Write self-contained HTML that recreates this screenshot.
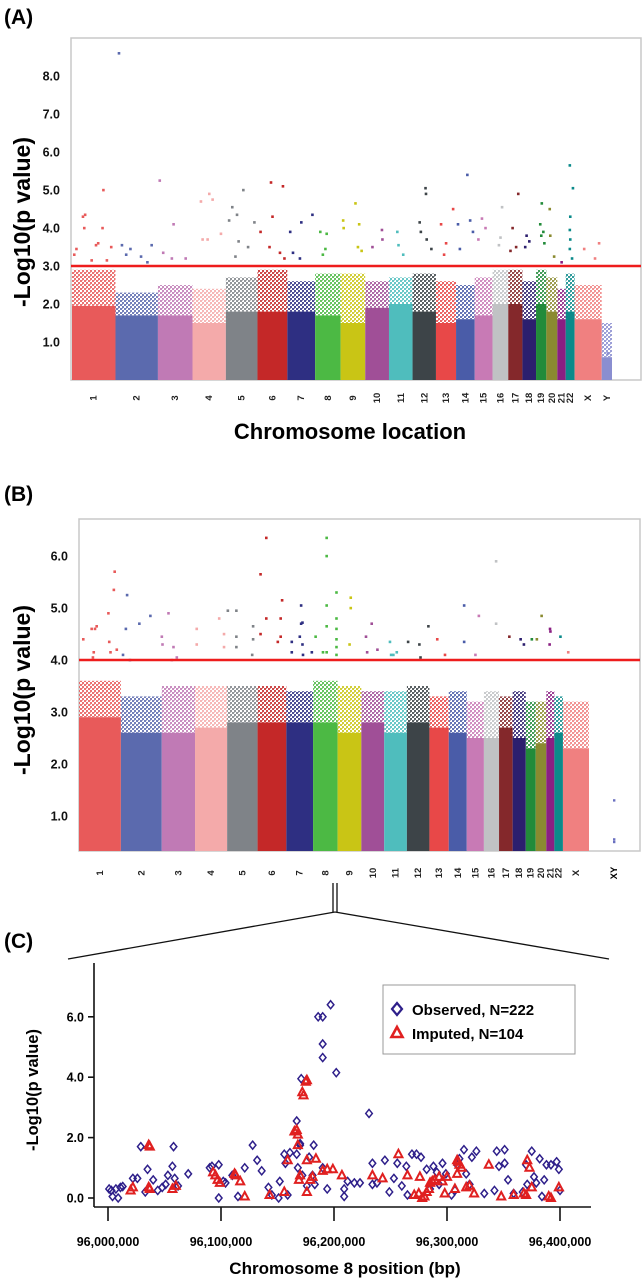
<!DOCTYPE html>
<html><head><meta charset="utf-8">
<style>
html,body{margin:0;padding:0;background:#fff;}
svg{display:block;font-family:"Liberation Sans",Arial,sans-serif;}
</style></head>
<body>
<svg id="fig" width="643" height="1280" viewBox="0 0 643 1280" xmlns="http://www.w3.org/2000/svg">
<defs id="defs"></defs>
<g id="panelA"></g>
<g id="panelB"></g>
<g id="panelC"></g>
</svg>
<script>
// ---- shared chromosome data ----
const chromNames = ["1","2","3","4","5","6","7","8","9","10","11","12","13","14","15","16","17","18","19","20","21","22","X","Y"];
const chromLengths = [249,243,198,191,181,171,159,146,141,136,135,134,115,107,102,90,81,78,59,63,48,51,155,59];
const chromColors = ["#e85a5a","#5b6aae","#c07ab5","#f4aaaa","#7f8388","#c42828","#2e2f82","#4cb944","#c9c515","#a04f97","#4fbdbd","#3d4448","#e84848","#4a5ca8","#c87ab5","#c0c2c4","#84282b","#2c1f6e","#228b3a","#8a8a30","#8a1f82","#0b8a8a","#f08080","#8a8ed0"];

// Panel A data
const aSolidTop = [1.95,1.7,1.7,1.5,1.8,1.8,1.8,1.7,1.5,1.9,2.0,1.8,1.5,1.6,1.7,2.0,2.0,1.6,2.0,1.8,1.6,1.8,1.6,0.6];
const aCloudTop = [2.9,2.3,2.5,2.4,2.7,2.9,2.6,2.8,2.8,2.6,2.7,2.8,2.6,2.5,2.7,2.9,2.9,2.6,2.9,2.7,2.4,2.8,2.5,1.5];
const aThreshold = 3.0;
const aHits = [
[0,0.25,4.3],[0,0.3,4.35],[0,0.28,4.0],[0,0.72,5.0],[0,0.7,4.0],[0,0.6,3.6],[0,0.1,3.45],[0,0.05,3.3],[0,0.55,3.55],[0,0.9,3.5],[0,0.45,3.15],[0,0.8,3.15],
[1,0.08,8.6],[1,0.15,3.55],[1,0.35,3.45],[1,0.25,3.3],[1,0.85,3.55],[1,0.6,3.25],[1,0.75,3.1],
[2,0.05,5.25],[2,0.45,4.1],[2,0.15,3.35],[2,0.4,3.2],[2,0.8,3.2],
[3,0.5,4.9],[3,0.25,4.7],[3,0.6,4.75],[3,0.3,3.7],[3,0.85,3.85],[3,0.45,3.7],
[4,0.2,4.55],[4,0.35,4.35],[4,0.1,4.2],[4,0.55,5.0],[4,0.4,3.65],[4,0.7,3.5],[4,0.9,4.15],[4,0.3,3.25],
[5,0.45,5.2],[5,0.85,5.1],[5,0.5,4.3],[5,0.1,3.9],[5,0.4,3.5],[5,0.75,3.35],[5,0.9,3.2],
[6,0.1,3.9],[6,0.5,4.15],[6,0.9,4.35],[6,0.2,3.35],[6,0.45,3.2],
[7,0.2,3.9],[7,0.45,3.85],[7,0.4,3.45],[7,0.3,3.3],
[8,0.1,4.2],[8,0.12,4.0],[8,0.6,4.65],[8,0.75,4.1],[8,0.7,3.5],[8,0.85,3.4],
[9,0.7,3.95],[9,0.72,3.7],[9,0.3,3.5],
[10,0.35,3.9],[10,0.4,3.55],[10,0.6,3.3],
[11,0.55,5.05],[11,0.57,4.9],[11,0.3,4.15],[11,0.35,3.9],[11,0.6,3.7],[11,0.8,3.45],
[12,0.25,4.1],[12,0.85,4.5],[12,0.5,3.6],[12,0.4,3.3],
[13,0.6,5.4],[13,0.1,4.1],[13,0.75,4.2],[13,0.9,3.9],[13,0.2,3.45],
[14,0.4,4.25],[14,0.6,4.0],[14,0.2,3.7],
[15,0.6,4.55],[15,0.5,3.75],[15,0.4,3.55],
[16,0.7,4.9],[16,0.3,4.0],[16,0.55,3.5],[16,0.15,3.4],
[17,0.3,3.8],[17,0.5,3.65],[17,0.2,3.5],
[18,0.55,4.65],[18,0.4,4.1],[18,0.7,3.9],[18,0.5,3.8],[18,0.8,3.6],
[19,0.3,4.5],[19,0.35,3.8],[19,0.7,3.25],
[20,0.5,3.1],
[21,0.45,5.65],[21,0.8,5.05],[21,0.5,4.3],[21,0.45,3.95],[21,0.5,3.7],[21,0.45,3.45],[21,0.7,3.2],
[22,0.35,3.45],[22,0.75,3.2],[22,0.9,3.6],
[23,0.6,0.7],[23,0.5,0.2]
];
const aTicks = [1,2,3,4,5,6,7,8];
const aTickLabels = ["1.0","2.0","3.0","4.0","5.0","6.0","7.0","8.0"];

// Panel B data
const bSolidTop = [2.9,2.6,2.6,2.7,2.8,2.8,2.8,2.8,2.6,2.8,2.6,2.8,2.7,2.6,2.5,2.5,2.7,2.5,2.3,2.4,2.5,2.6,2.3];
const bCloudTop = [3.6,3.3,3.5,3.5,3.5,3.5,3.4,3.6,3.5,3.4,3.4,3.5,3.3,3.4,3.2,3.4,3.3,3.4,3.2,3.2,3.4,3.3,3.2];
const bThreshold = 4.0;
const bHits = [
[0,0.1,4.4],[0,0.3,4.6],[0,0.38,4.6],[0,0.42,4.65],[0,0.35,4.15],[0,0.33,4.05],[0,0.85,5.7],[0,0.83,5.35],[0,0.7,4.9],[0,0.72,4.35],[0,0.9,4.2],[0,0.75,4.15],
[1,0.15,5.25],[1,0.12,4.6],[1,0.05,4.1],[1,0.22,4.0],[1,0.45,4.7],[1,0.72,4.85],
[2,0.0,4.45],[2,0.02,4.3],[2,0.2,4.9],[2,0.35,4.25],[2,0.45,4.05],[2,0.3,4.0],
[3,0.05,4.6],[3,0.05,4.3],[3,0.75,4.8],[3,0.9,4.5],[3,0.9,4.25],
[4,0.02,4.95],[4,0.3,4.95],[4,0.3,4.45],[4,0.3,4.25],[4,0.85,4.65],[4,0.85,4.4],[4,0.82,4.1],
[5,0.3,6.35],[5,0.1,5.65],[5,0.3,4.8],[5,0.1,4.5],[5,0.85,5.15],[5,0.8,4.8],[5,0.8,4.45],[5,0.7,4.35],
[6,0.55,5.05],[6,0.55,4.7],[6,0.6,4.72],[6,0.5,4.45],[6,0.2,4.35],[6,0.6,4.3],[6,0.2,4.15],[6,0.62,4.1],[6,0.95,4.15],
[7,0.55,6.35],[7,0.55,6.0],[7,0.55,5.05],[7,0.55,4.65],[7,0.1,4.45],[7,0.4,4.15],[7,0.55,4.15],[7,0.95,5.3],[7,0.95,4.8],[7,0.95,4.6],[7,0.95,4.4],[7,0.95,4.25],[7,0.95,4.1],
[8,0.55,5.2],[8,0.55,5.0],[8,0.5,4.3],
[9,0.45,4.7],[9,0.2,4.45],[9,0.25,4.15],[9,0.7,4.2],
[10,0.25,4.35],[10,0.3,4.1],[10,0.55,4.15],[10,0.4,4.1],
[11,0.05,4.35],[11,0.55,4.3],[11,0.6,4.05],[11,0.95,4.65],
[12,0.4,4.4],[12,0.8,4.1],
[13,0.85,5.05],[13,0.85,4.35],
[14,0.7,4.85],[14,0.5,4.1],
[15,0.8,5.9],[15,0.8,4.7],
[16,0.75,4.45],
[17,0.6,4.4],[17,0.85,4.3],
[18,0.6,4.4],
[19,0.55,4.85],[19,0.1,4.4],
[20,0.45,4.6],[20,0.5,4.55],[20,0.4,4.3],
[21,0.7,4.45],
[22,0.2,4.15]
];
const bXY = [1.3,0.55,0.5];
const bTicks = [1,2,3,4,5,6];
const bTickLabels = ["1.0","2.0","3.0","4.0","5.0","6.0"];

// Panel C data (positions in kb above 96,000,000 bp)
const obsPos = [1,3,4,7,9,11,13,22,26,29,35,33,40,44,48,51,53,57,58,59,62,71,90,92,98,98,102,104,110,115,121,128,132,136,142,145,151,152,156,157,159,161,167,167,168,170,170,171,172,176,178,181,182,183,186,190,190,190,190,194,197,202,209,209,212,218,223,231,234,234,238,245,249,253,256,260,264,265,269,273,277,282,285,288,291,293,296,299,304,307,309,311,315,317,320,322,326,333,342,344,346,351,351,354,359,367,370,371,375,377,379,382,384,386,388,392,397,399,400];
const obsVal = [0.3,0.25,0.05,0.3,0.0,0.35,0.38,0.65,0.65,1.7,0.95,0.2,0.6,0.25,0.35,0.45,0.75,1.05,1.7,0.65,0.4,0.8,1.0,1.05,1.1,0.0,0.55,0.5,0.75,0.05,1.0,1.75,1.25,0.9,0.35,0.1,0.0,0.55,1.45,1.15,0.1,1.5,2.55,1.45,1.0,1.8,1.75,3.95,0.75,0.4,1.35,0.75,1.75,0.45,6.0,6.0,5.1,4.65,1.0,0.3,6.4,4.15,0.3,0.05,0.55,0.5,0.5,2.8,1.15,0.45,0.5,1.25,0.2,0.65,1.15,0.4,1.05,0.1,1.45,1.45,1.35,0.95,0.3,1.05,0.85,0.45,1.15,0.8,0.1,0.25,1.1,1.3,1.6,0.8,0.45,1.35,1.55,0.15,0.25,1.55,1.05,1.6,1.15,0.6,0.15,0.2,1.1,0.45,1.55,0.7,0.5,1.3,0.05,0.6,1.1,1.1,1.2,0.95,0.25];
const impPos = [20,22,36,37,36,37,57,60,93,95,97,99,112,113,117,121,143,156,159,165,167,168,168,169,170,172,173,175,176,176,176,179,181,184,190,194,199,207,234,243,257,265,271,275,276,278,280,282,284,285,287,289,293,296,298,300,307,309,310,311,309,313,317,320,324,337,348,359,368,370,371,373,375,390,392,399];
const impVal = [0.25,0.35,1.75,1.7,0.35,0.3,0.3,0.4,0.85,0.75,0.6,0.5,0.8,0.75,0.55,0.05,0.1,0.2,1.25,2.2,2.25,2.1,1.75,0.6,0.75,3.5,3.4,3.85,3.9,1.25,0.2,0.6,0.7,1.3,0.9,0.95,0.95,0.75,0.75,0.65,1.45,0.75,0.1,0.15,0.7,0.0,0.05,0.2,0.3,0.5,0.55,0.6,0.7,0.55,0.15,0.7,0.3,1.25,1.2,1.1,0.8,1.0,0.35,0.4,0.15,1.1,0.05,0.1,0.15,0.1,1.25,1.0,0.35,0.05,0.0,0.35];
const cYTicks = [0,2,4,6];
const cYTickLabels = ["0.0","2.0","4.0","6.0"];
const cXTicks = [0,100,200,300,400];
const cXTickLabels = ["96,000,000","96,100,000","96,200,000","96,300,000","96,400,000"];

const NS = "http://www.w3.org/2000/svg";
function mk(tag, attrs, parent){ const e=document.createElementNS(NS,tag); for(const k in attrs) e.setAttribute(k,attrs[k]); if(parent) parent.appendChild(e); return e; }
const defs = document.getElementById('defs');

chromColors.forEach((c,i)=>{
  const p = mk('pattern',{id:'pat'+i,width:4,height:4,patternUnits:'userSpaceOnUse'},defs);
  mk('rect',{x:0,y:0,width:2,height:2,fill:c},p);
  mk('rect',{x:2,y:2,width:2,height:2,fill:c},p);
  mk('rect',{x:2,y:0,width:1,height:1,fill:c,opacity:0.6},p);
});

function manhattan(g, opt){
  const {left,top,right,bottom,x0,x1,y0px,unit,solid,cloud,hits,thr,ticks,tickLabels,labelY,tickX,nChrom} = opt;
  const tot = chromLengths.slice(0,nChrom).reduce((a,b)=>a+b,0);
  const xs = v => x0 + v/tot*(x1-x0);
  const ys = v => y0px - v*unit;
  const frame = mk('rect',{x:left,y:top,width:right-left,height:bottom-top,fill:'none',stroke:'#c8c8c8','stroke-width':1.5},g);
   
  let cum=0; const starts=[];
  for(let i=0;i<nChrom;i++){ starts.push(cum); cum+=chromLengths[i]; }
  for(let i=0;i<nChrom;i++){
    const xa=xs(starts[i]), xb=xs(starts[i]+chromLengths[i]);
    const cg = mk('g',{},g);
    
    
    const ct = Math.max(cloud[i], solid[i]);
    const cl = mk('rect',{x:xa,y:ys(ct),width:xb-xa,height:ys(solid[i])-ys(ct),fill:'url(#pat'+i+')',opacity:0.85},cg);
     
    const sb = mk('rect',{x:xa,y:ys(solid[i]),width:xb-xa,height:bottom-ys(solid[i]),fill:chromColors[i]},cg);
     
    const lb = mk('text',{x:0,y:0,transform:`translate(${(xa+xb)/2+3},${labelY}) rotate(-90)`,'font-size':9.5,'font-weight':'bold','text-anchor':'middle',fill:'#222'},g);
    lb.textContent = chromNames[i];
     
  }
  hits.forEach(h=>{
    const [ci,fr,v]=h;
    const x = xs(starts[ci]+fr*chromLengths[ci]);
    const r = mk('rect',{x:x-1.2,y:ys(v)-1.2,width:2.6,height:2.6,fill:chromColors[ci]},g);
     
  });
  const tl = mk('line',{x1:left,x2:right,y1:ys(thr),y2:ys(thr),stroke:'#ee1c1c','stroke-width':2.5},g);
   
  ticks.forEach((t,i)=>{
    const tx = mk('text',{x:tickX,y:ys(t)+4.5,'font-size':12.5,'font-weight':'bold','text-anchor':'end',fill:'#111'},g);
    tx.textContent = tickLabels[i];
     
  });
  return {xs,ys,starts};
}

// ---- Panel A ----
const gA = document.getElementById('panelA');
const tA = mk('text',{x:4,y:24,'font-size':21,'font-weight':'bold'},gA); tA.textContent='(A)';
 
manhattan(gA,{left:71,top:38,right:641,bottom:380,x0:72,x1:612,y0px:380,unit:38,solid:aSolidTop,cloud:aCloudTop,hits:aHits,thr:aThreshold,ticks:aTicks,tickLabels:aTickLabels,labelY:398,tickX:60,nChrom:24});
const yA = mk('text',{x:0,y:0,transform:'translate(30,222) rotate(-90)','font-size':23,'font-weight':'bold','text-anchor':'middle'},gA); yA.textContent='-Log10(p value)';
 
const xA = mk('text',{x:350,y:439,'font-size':22,'font-weight':'bold','text-anchor':'middle'},gA); xA.textContent='Chromosome location';
 

// ---- Panel B ----
const gB = document.getElementById('panelB');
const tB = mk('text',{x:4,y:501,'font-size':21,'font-weight':'bold'},gB); tB.textContent='(B)';
 
const mB = manhattan(gB,{left:79,top:519,right:640,bottom:851,x0:79,x1:589,y0px:868,unit:52,solid:bSolidTop,cloud:bCloudTop,hits:bHits,thr:bThreshold,ticks:bTicks,tickLabels:bTickLabels,labelY:873,tickX:68,nChrom:23});
bXY.forEach(v=>{
  const r = mk('rect',{x:613,y:mB.ys(v)-1.2,width:2.4,height:2.4,fill:'#6a70c0'},gB);
   
});
const xyl = mk('text',{x:0,y:0,transform:'translate(617,873) rotate(-90)','font-size':9.5,'font-weight':'bold','text-anchor':'middle'},gB); xyl.textContent='XY';
 
const yB = mk('text',{x:0,y:0,transform:'translate(30,690) rotate(-90)','font-size':23,'font-weight':'bold','text-anchor':'middle'},gB); yB.textContent='-Log10(p value)';
 

const zc = mk('g',{fill:'none',stroke:'#111','stroke-width':1.3},gB);
 
mk('line',{x1:333,y1:883,x2:333,y2:912},zc);
mk('line',{x1:337,y1:883,x2:337,y2:912},zc);
mk('line',{x1:335,y1:912,x2:68,y2:959},zc);
mk('line',{x1:335,y1:912,x2:609,y2:959},zc);

// ---- Panel C ----
const gC = document.getElementById('panelC');
const tC = mk('text',{x:4,y:948,'font-size':21,'font-weight':'bold'},gC); tC.textContent='(C)';
 
const cx = v => 108 + v*1.13;
const cy = v => 1198 - v*30.2;
const axes = mk('g',{stroke:'#111','stroke-width':1.6,fill:'none'},gC);
 
mk('line',{x1:94,y1:963,x2:94,y2:1207},axes);
mk('line',{x1:94,y1:1207,x2:591,y2:1207},axes);
cYTicks.forEach((t,i)=>{
  mk('line',{x1:88,x2:94,y1:cy(t),y2:cy(t)},axes);
  const tx = mk('text',{x:84,y:cy(t)+4.5,'font-size':12.5,'font-weight':'bold','text-anchor':'end'},gC);
  tx.textContent = cYTickLabels[i];
   
});
cXTicks.forEach((t,i)=>{
  mk('line',{x1:cx(t),x2:cx(t),y1:1207,y2:1221},axes);
  const tx = mk('text',{x:cx(t),y:1246,'font-size':12.5,'font-weight':'bold','text-anchor':'middle'},gC);
  tx.textContent = cXTickLabels[i];
   
});
function diamond(x,y,parent){ return mk('path',{d:`M${x},${y-4} L${x+3.3},${y} L${x},${y+4} L${x-3.3},${y} Z`,fill:'none',stroke:'#2e1f8a','stroke-width':1.5},parent); }
function tri(x,y,parent){ return mk('path',{d:`M${x},${y-4.5} L${x+4},${y+3} L${x-4},${y+3} Z`,fill:'none',stroke:'#e02020','stroke-width':2},parent); }
const gObs = mk('g',{},gC);  
obsPos.forEach((p,i)=>{ const d=diamond(cx(p),cy(obsVal[i]),gObs);
  
   });
const gImp = mk('g',{},gC);  
impPos.forEach((p,i)=>{ const d=tri(cx(p),cy(impVal[i]),gImp);
  
   });
const yC = mk('text',{x:0,y:0,transform:'translate(38,1090) rotate(-90)','font-size':16.5,'font-weight':'bold','text-anchor':'middle'},gC); yC.textContent='-Log10(p value)';
 
const xC = mk('text',{x:345,y:1274,'font-size':17,'font-weight':'bold','text-anchor':'middle'},gC); xC.textContent='Chromosome 8 position (bp)';
 
const lg = mk('g',{},gC);  
mk('rect',{x:383,y:985,width:192,height:69,fill:'#fff',stroke:'#999','stroke-width':1},lg);
const le1 = mk('g',{},lg);  
mk('path',{d:'M397,1003 L402,1009 L397,1015 L392,1009 Z',fill:'none',stroke:'#2e1f8a','stroke-width':2.2},le1);
const lt1 = mk('text',{x:412,y:1015,'font-size':15,'font-weight':'bold'},le1); lt1.textContent='Observed, N=222';
const le2 = mk('g',{},lg);  
mk('path',{d:'M397,1027 L402.5,1037 L391.5,1037 Z',fill:'none',stroke:'#e02020','stroke-width':2.6},le2);
const lt2 = mk('text',{x:412,y:1039,'font-size':15,'font-weight':'bold'},le2); lt2.textContent='Imputed, N=104';
</script>
</body></html>
